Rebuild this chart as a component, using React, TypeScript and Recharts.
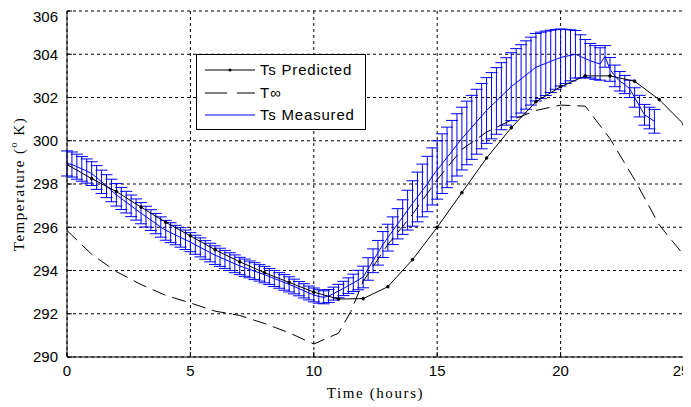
import React from 'react';
import { LineChart, Line, XAxis, YAxis, CartesianGrid, ErrorBar, Label } from 'recharts';

// hourly model output
const predHours = [0, 1, 2, 3, 4, 5, 6, 7, 8, 9, 10, 11, 12, 13, 14, 15, 16, 17, 18, 19, 20, 21, 22, 23, 24, 25];
const predTemp = [298.9, 298.25, 297.65, 296.93, 296.23, 295.6, 294.96, 294.4, 293.9, 293.45, 293.0, 292.68, 292.7, 293.25, 294.5, 296.0, 297.6, 299.2, 300.6, 301.8, 302.5, 303.0, 303.0, 302.75, 301.9, 300.75];

// ambient (T infinity)
const ambHours = [0, 1, 2, 3, 4, 5, 6, 7, 8, 9, 10, 10.5, 11, 11.5, 12, 13, 14, 15, 16, 17, 18, 19, 20, 21, 22, 23, 24, 25];
const ambTemp = [295.85, 294.75, 293.95, 293.35, 292.85, 292.5, 292.12, 291.92, 291.55, 291.12, 290.6, 290.85, 291.1, 292.1, 293.5, 295.2, 296.6, 298.2, 299.6, 300.4, 300.95, 301.4, 301.65, 301.6, 300.1, 298.2, 296.1, 294.7];

// measured surface temperature, mean and error
const measHours = [
  0, 0.2, 0.4, 0.6, 0.8, 1, 1.2, 1.4, 1.6, 1.8,
  2, 2.2, 2.4, 2.6, 2.8, 3, 3.2, 3.4, 3.6, 3.8,
  4, 4.2, 4.4, 4.6, 4.8, 5, 5.2, 5.4, 5.6, 5.8,
  6, 6.2, 6.4, 6.6, 6.8, 7, 7.2, 7.4, 7.6, 7.8,
  8, 8.2, 8.4, 8.6, 8.8, 9, 9.2, 9.4, 9.6, 9.8,
  10, 10.2, 10.4, 10.6, 10.8, 11, 11.2, 11.4, 11.6, 11.8,
  12, 12.2, 12.4, 12.6, 12.8, 13, 13.2, 13.4, 13.6, 13.8,
  14, 14.2, 14.4, 14.6, 14.8, 15, 15.2, 15.4, 15.6, 15.8,
  16, 16.2, 16.4, 16.6, 16.8, 17, 17.2, 17.4, 17.6, 17.8,
  18, 18.2, 18.4, 18.6, 18.8, 19, 19.2, 19.4, 19.6, 19.8,
  20, 20.2, 20.4, 20.6, 20.8, 21, 21.2, 21.4, 21.6, 21.8,
  22, 22.2, 22.4, 22.6, 22.8, 23, 23.2, 23.4, 23.6, 23.8,
];
const measTemp = [
  298.95, 298.9, 298.8, 298.7, 298.6, 298.48, 298.3, 298.1, 297.9, 297.7,
  297.5, 297.33, 297.16, 296.99, 296.82, 296.65, 296.49, 296.33, 296.17, 296.01,
  295.86, 295.75, 295.64, 295.53, 295.42, 295.31, 295.19, 295.07, 294.95, 294.83,
  294.71, 294.61, 294.51, 294.41, 294.31, 294.21, 294.13, 294.05, 293.97, 293.89,
  293.81, 293.72, 293.63, 293.54, 293.45, 293.36, 293.26, 293.16, 293.06, 292.96,
  292.87, 292.8, 292.76, 292.82, 292.93, 293.05, 293.17, 293.3, 293.43, 293.56,
  293.7, 294.07, 294.45, 294.82, 295.2, 295.52, 295.84, 296.16, 296.47, 296.79,
  297.1, 297.4, 297.7, 298.0, 298.35, 298.65, 298.94, 299.23, 299.52, 299.81,
  300.1, 300.36, 300.62, 300.88, 301.14, 301.4, 301.62, 301.84, 302.06, 302.28,
  302.5, 302.68, 302.86, 303.04, 303.22, 303.4, 303.49, 303.58, 303.67, 303.76,
  303.85, 303.9, 303.95, 304.0, 303.9, 303.8, 303.7, 303.62, 303.55, 303.9,
  303.3, 303.0, 302.75, 302.6, 302.4, 302.0, 301.6, 301.2, 301.05, 300.9,
];
const measErr = [
  0.58, 0.58, 0.58, 0.57, 0.56, 0.55, 0.55, 0.54, 0.53, 0.52,
  0.52, 0.51, 0.5, 0.5, 0.49, 0.49, 0.48, 0.48, 0.47, 0.47,
  0.46, 0.46, 0.45, 0.45, 0.45, 0.44, 0.44, 0.44, 0.43, 0.43,
  0.43, 0.42, 0.42, 0.41, 0.41, 0.4, 0.4, 0.39, 0.39, 0.38,
  0.38, 0.37, 0.37, 0.36, 0.36, 0.35, 0.34, 0.33, 0.33, 0.32,
  0.32, 0.31, 0.3, 0.3, 0.3, 0.31, 0.33, 0.36, 0.4, 0.45,
  0.5, 0.52, 0.55, 0.57, 0.6, 0.62, 0.64, 0.7, 0.8, 0.92,
  1.05, 1.15, 1.22, 1.28, 1.32, 1.35, 1.38, 1.4, 1.42, 1.44,
  1.45, 1.47, 1.48, 1.5, 1.51, 1.52, 1.53, 1.54, 1.55, 1.56,
  1.57, 1.58, 1.58, 1.58, 1.57, 1.56, 1.53, 1.49, 1.44, 1.38,
  1.32, 1.25, 1.18, 1.1, 1.0, 0.88, 0.8, 0.78, 0.75, 0.5,
  0.55, 0.5, 0.45, 0.42, 0.4, 0.45, 0.5, 0.48, 0.5, 0.55,
];

const xTicks = [0, 5, 10, 15, 20, 25];
const yTicks = [290, 292, 294, 296, 298, 300, 302, 304, 306];

const predData = predHours.map((t, i) => ({ t, v: predTemp[i] }));
const ambData = ambHours.map((t, i) => ({ t, v: ambTemp[i] }));
const measData = measHours.map((t, i) => ({ t, v: measTemp[i], err: measErr[i] }));

const serif = '"Liberation Serif", "Times New Roman", serif';

// keeps the last label inside the page like the original
function XTick({ x, y, payload }: any) {
  const px = Math.min(x, 673);
  return (
    <text x={px} y={y} dy="0.71em" textAnchor="middle" fontSize={15} fill="#000">
      {payload.value}
    </text>
  );
}

function XTitle({ viewBox }: any) {
  const cx = viewBox.x + viewBox.width / 2;
  return (
    <text x={cx} y={viewBox.y + 41} textAnchor="middle" fontFamily={serif} fontWeight="normal" fontSize={15} letterSpacing={1.6} fill="#000">
      Time (hours)
    </text>
  );
}

function YTitle({ viewBox }: any) {
  const cy = viewBox.y + viewBox.height / 2;
  const cx = 11;
  return (
    <text x={cx} y={cy} transform={`rotate(-90 ${cx} ${cy})`} textAnchor="middle" dominantBaseline="central"
      fontFamily={serif} fontWeight="normal" fontSize={15} letterSpacing={1.5} fill="#000">
      Temperature (<tspan fontSize={10} dy={-6}>o</tspan><tspan dy={6}> K)</tspan>
    </text>
  );
}

export default function App() {
  return (
    <div style={{ position: 'relative', width: 683, height: 399, fontFamily: '"Liberation Sans", Arial, sans-serif' }}>
      <LineChart width={683} height={399} margin={{ top: 3, right: 7, bottom: 0, left: 0 }}>
        <CartesianGrid stroke="#000" strokeDasharray="3 3" />
        <XAxis type="number" dataKey="t" domain={[0, 25]} ticks={xTicks} height={50}
          axisLine={{ stroke: '#000' }} tickLine={{ stroke: '#000' }} tickSize={-5} tickMargin={13}
          tick={<XTick />} allowDataOverflow>
          <Label content={<XTitle />} />
        </XAxis>
        <YAxis type="number" domain={[290, 306]} ticks={yTicks} width={59}
          axisLine={{ stroke: '#000' }} tickLine={{ stroke: '#000' }} tickSize={-5} tickMargin={14}
          tick={{ fill: '#000', fontSize: 15 }} allowDataOverflow>
          <Label content={<YTitle />} />
        </YAxis>
        <Line data={measData} dataKey="v" stroke="#0000ff" strokeWidth={1} dot={false} isAnimationActive={false}>
          <ErrorBar dataKey="err" width={6} stroke="#0000ff" strokeWidth={1} direction="y" isAnimationActive={false} />
        </Line>
        <Line data={ambData} dataKey="v" stroke="#000" strokeWidth={1} strokeDasharray="14 7" dot={false} isAnimationActive={false} />
        <Line data={predData} dataKey="v" stroke="#000" strokeWidth={1} dot={{ r: 1.3, fill: '#000', stroke: '#000' }} isAnimationActive={false} />
      </LineChart>
      <svg width={171} height={77} style={{ position: 'absolute', left: 188, top: 46 }}>
        <rect x={0.5} y={0.5} width={169} height={75} fill="#fff" stroke="#000" />
        <line x1={9} x2={59} y1={16} y2={16} stroke="#000" />
        <circle cx={34} cy={16} r={1.5} fill="#000" />
        <text x={64} y={21} fontSize={15} letterSpacing={0.8} fill="#000">Ts Predicted</text>
        <line x1={9} x2={59} y1={39} y2={39} stroke="#000" strokeDasharray="22 10" />
        <text x={64} y={44} fontSize={15} letterSpacing={0.8} fill="#000">T∞</text>
        <line x1={9} x2={59} y1={61} y2={61} stroke="#0000ff" />
        <text x={64} y={66} fontSize={15} letterSpacing={0.8} fill="#000">Ts Measured</text>
      </svg>
    </div>
  );
}
